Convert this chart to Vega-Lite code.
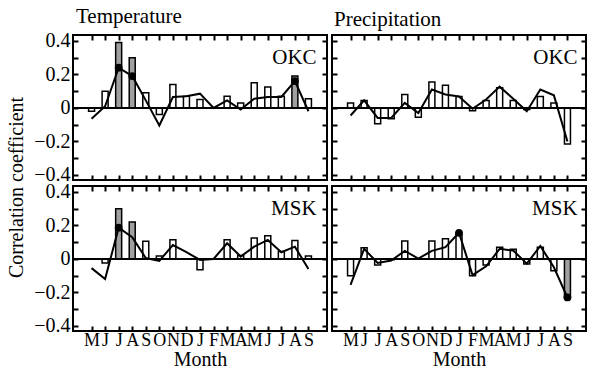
{
  "$schema": "https://vega.github.io/schema/vega-lite/v6.json",
  "background": "white",
  "padding": {"left": 6, "top": 4, "right": 2, "bottom": 0},
  "title": {"text": "Correlation coefficient", "orient": "left", "anchor": "middle", "fontSize": 20, "fontWeight": "normal", "font": "Liberation Serif", "color": "black", "offset": 6},
  "data": {"values": [
    {"v":"Temperature","s":"OKC","m":1,"b":-0.02,"l":-0.065,"sig":0,"dot":0},
    {"v":"Temperature","s":"OKC","m":2,"b":0.10,"l":0.01,"sig":0,"dot":0},
    {"v":"Temperature","s":"OKC","m":3,"b":0.39,"l":0.24,"sig":1,"dot":1},
    {"v":"Temperature","s":"OKC","m":4,"b":0.30,"l":0.19,"sig":1,"dot":1},
    {"v":"Temperature","s":"OKC","m":5,"b":0.09,"l":0.045,"sig":0,"dot":0},
    {"v":"Temperature","s":"OKC","m":6,"b":-0.04,"l":-0.105,"sig":0,"dot":0},
    {"v":"Temperature","s":"OKC","m":7,"b":0.14,"l":0.065,"sig":0,"dot":0},
    {"v":"Temperature","s":"OKC","m":8,"b":0.07,"l":0.07,"sig":0,"dot":0},
    {"v":"Temperature","s":"OKC","m":9,"b":0.05,"l":0.085,"sig":0,"dot":0},
    {"v":"Temperature","s":"OKC","m":10,"b":0.0,"l":0.0,"sig":0,"dot":0},
    {"v":"Temperature","s":"OKC","m":11,"b":0.07,"l":0.045,"sig":0,"dot":0},
    {"v":"Temperature","s":"OKC","m":12,"b":0.03,"l":-0.01,"sig":0,"dot":0},
    {"v":"Temperature","s":"OKC","m":13,"b":0.15,"l":0.055,"sig":0,"dot":0},
    {"v":"Temperature","s":"OKC","m":14,"b":0.125,"l":0.065,"sig":0,"dot":0},
    {"v":"Temperature","s":"OKC","m":15,"b":0.07,"l":0.065,"sig":0,"dot":0},
    {"v":"Temperature","s":"OKC","m":16,"b":0.19,"l":0.16,"sig":1,"dot":1},
    {"v":"Temperature","s":"OKC","m":17,"b":0.055,"l":-0.02,"sig":0,"dot":0},
    {"v":"Temperature","s":"MSK","m":1,"b":0.0,"l":-0.055,"sig":0,"dot":0},
    {"v":"Temperature","s":"MSK","m":2,"b":-0.025,"l":-0.12,"sig":0,"dot":0},
    {"v":"Temperature","s":"MSK","m":3,"b":0.30,"l":0.186,"sig":1,"dot":1},
    {"v":"Temperature","s":"MSK","m":4,"b":0.22,"l":0.13,"sig":1,"dot":0},
    {"v":"Temperature","s":"MSK","m":5,"b":0.105,"l":0.005,"sig":0,"dot":0},
    {"v":"Temperature","s":"MSK","m":6,"b":0.018,"l":-0.012,"sig":0,"dot":0},
    {"v":"Temperature","s":"MSK","m":7,"b":0.115,"l":0.083,"sig":0,"dot":0},
    {"v":"Temperature","s":"MSK","m":8,"b":0.0,"l":0.04,"sig":0,"dot":0},
    {"v":"Temperature","s":"MSK","m":9,"b":-0.065,"l":-0.006,"sig":0,"dot":0},
    {"v":"Temperature","s":"MSK","m":10,"b":0.0,"l":0.0,"sig":0,"dot":0},
    {"v":"Temperature","s":"MSK","m":11,"b":0.115,"l":0.093,"sig":0,"dot":0},
    {"v":"Temperature","s":"MSK","m":12,"b":0.02,"l":0.014,"sig":0,"dot":0},
    {"v":"Temperature","s":"MSK","m":13,"b":0.125,"l":0.073,"sig":0,"dot":0},
    {"v":"Temperature","s":"MSK","m":14,"b":0.138,"l":0.113,"sig":0,"dot":0},
    {"v":"Temperature","s":"MSK","m":15,"b":0.045,"l":0.04,"sig":0,"dot":0},
    {"v":"Temperature","s":"MSK","m":16,"b":0.11,"l":0.073,"sig":0,"dot":0},
    {"v":"Temperature","s":"MSK","m":17,"b":0.018,"l":-0.06,"sig":0,"dot":0},
    {"v":"Precipitation","s":"OKC","m":1,"b":0.03,"l":-0.045,"sig":0,"dot":0},
    {"v":"Precipitation","s":"OKC","m":2,"b":0.045,"l":0.045,"sig":0,"dot":0},
    {"v":"Precipitation","s":"OKC","m":3,"b":-0.095,"l":-0.06,"sig":0,"dot":0},
    {"v":"Precipitation","s":"OKC","m":4,"b":-0.065,"l":-0.06,"sig":0,"dot":0},
    {"v":"Precipitation","s":"OKC","m":5,"b":0.08,"l":0.03,"sig":0,"dot":0},
    {"v":"Precipitation","s":"OKC","m":6,"b":-0.055,"l":-0.03,"sig":0,"dot":0},
    {"v":"Precipitation","s":"OKC","m":7,"b":0.155,"l":0.11,"sig":0,"dot":0},
    {"v":"Precipitation","s":"OKC","m":8,"b":0.135,"l":0.08,"sig":0,"dot":0},
    {"v":"Precipitation","s":"OKC","m":9,"b":0.068,"l":0.068,"sig":0,"dot":0},
    {"v":"Precipitation","s":"OKC","m":10,"b":-0.017,"l":-0.005,"sig":0,"dot":0},
    {"v":"Precipitation","s":"OKC","m":11,"b":0.045,"l":0.05,"sig":0,"dot":0},
    {"v":"Precipitation","s":"OKC","m":12,"b":0.12,"l":0.127,"sig":0,"dot":0},
    {"v":"Precipitation","s":"OKC","m":13,"b":0.045,"l":0.055,"sig":0,"dot":0},
    {"v":"Precipitation","s":"OKC","m":14,"b":-0.01,"l":-0.02,"sig":0,"dot":0},
    {"v":"Precipitation","s":"OKC","m":15,"b":0.068,"l":0.11,"sig":0,"dot":0},
    {"v":"Precipitation","s":"OKC","m":16,"b":0.03,"l":0.075,"sig":0,"dot":0},
    {"v":"Precipitation","s":"OKC","m":17,"b":-0.215,"l":-0.2,"sig":0,"dot":0},
    {"v":"Precipitation","s":"MSK","m":1,"b":-0.10,"l":-0.155,"sig":0,"dot":0},
    {"v":"Precipitation","s":"MSK","m":2,"b":0.067,"l":0.06,"sig":0,"dot":0},
    {"v":"Precipitation","s":"MSK","m":3,"b":-0.037,"l":-0.024,"sig":0,"dot":0},
    {"v":"Precipitation","s":"MSK","m":4,"b":-0.005,"l":-0.01,"sig":0,"dot":0},
    {"v":"Precipitation","s":"MSK","m":5,"b":0.107,"l":0.048,"sig":0,"dot":0},
    {"v":"Precipitation","s":"MSK","m":6,"b":0.0,"l":0.002,"sig":0,"dot":0},
    {"v":"Precipitation","s":"MSK","m":7,"b":0.107,"l":0.048,"sig":0,"dot":0},
    {"v":"Precipitation","s":"MSK","m":8,"b":0.12,"l":0.07,"sig":0,"dot":0},
    {"v":"Precipitation","s":"MSK","m":9,"b":0.155,"l":0.156,"sig":0,"dot":1},
    {"v":"Precipitation","s":"MSK","m":10,"b":-0.10,"l":-0.097,"sig":0,"dot":0},
    {"v":"Precipitation","s":"MSK","m":11,"b":-0.037,"l":-0.044,"sig":0,"dot":0},
    {"v":"Precipitation","s":"MSK","m":12,"b":0.07,"l":0.06,"sig":0,"dot":0},
    {"v":"Precipitation","s":"MSK","m":13,"b":0.057,"l":0.05,"sig":0,"dot":0},
    {"v":"Precipitation","s":"MSK","m":14,"b":-0.03,"l":-0.028,"sig":0,"dot":0},
    {"v":"Precipitation","s":"MSK","m":15,"b":0.07,"l":0.077,"sig":0,"dot":0},
    {"v":"Precipitation","s":"MSK","m":16,"b":-0.07,"l":-0.05,"sig":0,"dot":0},
    {"v":"Precipitation","s":"MSK","m":17,"b":-0.23,"l":-0.23,"sig":1,"dot":1}
  ]},
  "columns": 2,
  "bounds": "flush",
  "spacing": {"row": 6, "column": 5},
  "concat": [
    {
      "width": 254, "height": 145,
      "title": {"text": "Temperature", "anchor": "start", "frame": "group", "fontSize": 21, "offset": 4, "dx": 3},
      "transform": [{"filter": "datum.v == 'Temperature' && datum.s == 'OKC'"}],
      "resolve": {"axis": {"x": "independent", "y": "independent"}},
      "layer": [
        {"mark": {"type": "bar", "size": 6, "stroke": "black", "strokeWidth": 1.5},
         "encoding": {
           "x": {"field": "m", "type": "quantitative", "scale": {"domain": [0, 18], "nice": false, "zero": false},
                 "axis": {"orient": "bottom", "values": [1,2,3,4,5,6,7,8,9,10,11,12,13,14,15,16,17], "labels": false, "title": null, "tickSize": -5}},
           "y": {"field": "b", "type": "quantitative", "scale": {"domain": [-0.43, 0.435], "nice": false},
                 "axis": {"orient": "left", "values": [-0.4,-0.3,-0.2,-0.1,0,0.1,0.2,0.3,0.4], "format": ".1f", "labelExpr": "abs(round(datum.value*10)) % 2 == 1 ? '' : (datum.value == 0 ? '0' : datum.label)", "tickSize": -5, "labelFontSize": 20, "labelPadding": 8, "title": null, "labelOverlap": false, "labelFlush": false, "labelBound": false}},
           "fill": {"condition": {"test": "datum.sig == 1", "value": "#a0a0a0"}, "value": "white"}
         }},
        {"mark": {"type": "rule", "strokeWidth": 2, "color": "black"}, "encoding": {"y": {"datum": 0, "type": "quantitative", "axis": null}}},
        {"mark": {"type": "line", "color": "black", "strokeWidth": 2},
         "encoding": {
           "x": {"field": "m", "type": "quantitative", "axis": {"orient": "top", "values": [1,2,3,4,5,6,7,8,9,10,11,12,13,14,15,16,17], "labels": false, "title": null, "tickSize": -5}},
           "y": {"field": "l", "type": "quantitative", "axis": {"orient": "right", "values": [-0.4,-0.3,-0.2,-0.1,0,0.1,0.2,0.3,0.4], "labels": false, "title": null, "tickSize": -5}}
         }},
        {"transform": [{"filter": "datum.dot == 1"}], "mark": {"type": "circle", "color": "black", "size": 60, "opacity": 1},
         "encoding": {"x": {"field": "m", "type": "quantitative", "axis": null}, "y": {"field": "l", "type": "quantitative", "axis": null}}},
        {"transform": [{"filter": "datum.m == 1"}], "mark": {"type": "text", "align": "right", "baseline": "alphabetic", "fontSize": 21, "font": "Liberation Serif", "color": "black"},
         "encoding": {"x": {"datum": 17.6, "type": "quantitative", "axis": null}, "y": {"datum": 0.26, "type": "quantitative", "axis": null}, "text": {"field": "s"}}}
      ]
    },
    {
      "width": 254, "height": 145,
      "title": {"text": "Precipitation", "anchor": "start", "frame": "group", "fontSize": 21, "offset": 4, "dx": 2},
      "transform": [{"filter": "datum.v == 'Precipitation' && datum.s == 'OKC'"}],
      "resolve": {"axis": {"x": "independent", "y": "independent"}},
      "layer": [
        {"mark": {"type": "bar", "size": 6, "stroke": "black", "strokeWidth": 1.5},
         "encoding": {
           "x": {"field": "m", "type": "quantitative", "scale": {"domain": [0, 18], "nice": false, "zero": false},
                 "axis": {"orient": "bottom", "values": [1,2,3,4,5,6,7,8,9,10,11,12,13,14,15,16,17], "labels": false, "title": null, "tickSize": -5}},
           "y": {"field": "b", "type": "quantitative", "scale": {"domain": [-0.43, 0.435], "nice": false},
                 "axis": {"orient": "left", "values": [-0.4,-0.3,-0.2,-0.1,0,0.1,0.2,0.3,0.4], "labels": false, "tickSize": -5, "title": null}},
           "fill": {"condition": {"test": "datum.sig == 1", "value": "#a0a0a0"}, "value": "white"}
         }},
        {"mark": {"type": "rule", "strokeWidth": 2, "color": "black"}, "encoding": {"y": {"datum": 0, "type": "quantitative", "axis": null}}},
        {"mark": {"type": "line", "color": "black", "strokeWidth": 2},
         "encoding": {
           "x": {"field": "m", "type": "quantitative", "axis": {"orient": "top", "values": [1,2,3,4,5,6,7,8,9,10,11,12,13,14,15,16,17], "labels": false, "title": null, "tickSize": -5}},
           "y": {"field": "l", "type": "quantitative", "axis": {"orient": "right", "values": [-0.4,-0.3,-0.2,-0.1,0,0.1,0.2,0.3,0.4], "labels": false, "title": null, "tickSize": -5}}
         }},
        {"transform": [{"filter": "datum.dot == 1"}], "mark": {"type": "circle", "color": "black", "size": 60, "opacity": 1},
         "encoding": {"x": {"field": "m", "type": "quantitative", "axis": null}, "y": {"field": "l", "type": "quantitative", "axis": null}}},
        {"transform": [{"filter": "datum.m == 1"}], "mark": {"type": "text", "align": "right", "baseline": "alphabetic", "fontSize": 21, "font": "Liberation Serif", "color": "black"},
         "encoding": {"x": {"datum": 17.75, "type": "quantitative", "axis": null}, "y": {"datum": 0.26, "type": "quantitative", "axis": null}, "text": {"field": "s"}}}
      ]
    },
    {
      "width": 254, "height": 145,
      "transform": [{"filter": "datum.v == 'Temperature' && datum.s == 'MSK'"}],
      "resolve": {"axis": {"x": "independent", "y": "independent"}},
      "layer": [
        {"mark": {"type": "bar", "size": 6, "stroke": "black", "strokeWidth": 1.5},
         "encoding": {
           "x": {"field": "m", "type": "quantitative", "scale": {"domain": [0, 18], "nice": false, "zero": false},
                 "axis": {"orient": "bottom", "values": [1,2,3,4,5,6,7,8,9,10,11,12,13,14,15,16,17], "labelExpr": "['M','J','J','A','S','O','N','D','J','F','M','A','M','J','J','A','S'][datum.value - 1]", "tickSize": -5, "labelFontSize": 18, "labelPadding": 5, "labelOverlap": false, "labelFlush": false, "labelBound": false, "title": "Month", "titleFontSize": 20, "titlePadding": 0}},
           "y": {"field": "b", "type": "quantitative", "scale": {"domain": [-0.43, 0.435], "nice": false},
                 "axis": {"orient": "left", "values": [-0.4,-0.3,-0.2,-0.1,0,0.1,0.2,0.3,0.4], "format": ".1f", "labelExpr": "abs(round(datum.value*10)) % 2 == 1 ? '' : (datum.value == 0 ? '0' : datum.label)", "tickSize": -5, "labelFontSize": 20, "labelPadding": 8, "title": null, "labelOverlap": false, "labelFlush": false, "labelBound": false}},
           "fill": {"condition": {"test": "datum.sig == 1", "value": "#a0a0a0"}, "value": "white"}
         }},
        {"mark": {"type": "rule", "strokeWidth": 2, "color": "black"}, "encoding": {"y": {"datum": 0, "type": "quantitative", "axis": null}}},
        {"mark": {"type": "line", "color": "black", "strokeWidth": 2},
         "encoding": {
           "x": {"field": "m", "type": "quantitative", "axis": {"orient": "top", "values": [1,2,3,4,5,6,7,8,9,10,11,12,13,14,15,16,17], "labels": false, "title": null, "tickSize": -5}},
           "y": {"field": "l", "type": "quantitative", "axis": {"orient": "right", "values": [-0.4,-0.3,-0.2,-0.1,0,0.1,0.2,0.3,0.4], "labels": false, "title": null, "tickSize": -5}}
         }},
        {"transform": [{"filter": "datum.dot == 1"}], "mark": {"type": "circle", "color": "black", "size": 60, "opacity": 1},
         "encoding": {"x": {"field": "m", "type": "quantitative", "axis": null}, "y": {"field": "l", "type": "quantitative", "axis": null}}},
        {"transform": [{"filter": "datum.m == 1"}], "mark": {"type": "text", "align": "right", "baseline": "alphabetic", "fontSize": 21, "font": "Liberation Serif", "color": "black"},
         "encoding": {"x": {"datum": 17.6, "type": "quantitative", "axis": null}, "y": {"datum": 0.26, "type": "quantitative", "axis": null}, "text": {"field": "s"}}}
      ]
    },
    {
      "width": 254, "height": 145,
      "transform": [{"filter": "datum.v == 'Precipitation' && datum.s == 'MSK'"}],
      "resolve": {"axis": {"x": "independent", "y": "independent"}},
      "layer": [
        {"mark": {"type": "bar", "size": 6, "stroke": "black", "strokeWidth": 1.5},
         "encoding": {
           "x": {"field": "m", "type": "quantitative", "scale": {"domain": [0, 18], "nice": false, "zero": false},
                 "axis": {"orient": "bottom", "values": [1,2,3,4,5,6,7,8,9,10,11,12,13,14,15,16,17], "labelExpr": "['M','J','J','A','S','O','N','D','J','F','M','A','M','J','J','A','S'][datum.value - 1]", "tickSize": -5, "labelFontSize": 18, "labelPadding": 5, "labelOverlap": false, "labelFlush": false, "labelBound": false, "title": "Month", "titleFontSize": 20, "titlePadding": 0}},
           "y": {"field": "b", "type": "quantitative", "scale": {"domain": [-0.43, 0.435], "nice": false},
                 "axis": {"orient": "left", "values": [-0.4,-0.3,-0.2,-0.1,0,0.1,0.2,0.3,0.4], "labels": false, "tickSize": -5, "title": null}},
           "fill": {"condition": {"test": "datum.sig == 1", "value": "#a0a0a0"}, "value": "white"}
         }},
        {"mark": {"type": "rule", "strokeWidth": 2, "color": "black"}, "encoding": {"y": {"datum": 0, "type": "quantitative", "axis": null}}},
        {"mark": {"type": "line", "color": "black", "strokeWidth": 2},
         "encoding": {
           "x": {"field": "m", "type": "quantitative", "axis": {"orient": "top", "values": [1,2,3,4,5,6,7,8,9,10,11,12,13,14,15,16,17], "labels": false, "title": null, "tickSize": -5}},
           "y": {"field": "l", "type": "quantitative", "axis": {"orient": "right", "values": [-0.4,-0.3,-0.2,-0.1,0,0.1,0.2,0.3,0.4], "labels": false, "title": null, "tickSize": -5}}
         }},
        {"transform": [{"filter": "datum.dot == 1"}], "mark": {"type": "circle", "color": "black", "size": 60, "opacity": 1},
         "encoding": {"x": {"field": "m", "type": "quantitative", "axis": null}, "y": {"field": "l", "type": "quantitative", "axis": null}}},
        {"transform": [{"filter": "datum.m == 1"}], "mark": {"type": "text", "align": "right", "baseline": "alphabetic", "fontSize": 21, "font": "Liberation Serif", "color": "black"},
         "encoding": {"x": {"datum": 17.75, "type": "quantitative", "axis": null}, "y": {"datum": 0.26, "type": "quantitative", "axis": null}, "text": {"field": "s"}}}
      ]
    }
  ],
  "config": {
    "font": "Liberation Serif",
    "view": {"stroke": "black", "strokeWidth": 2},
    "axis": {"grid": false, "domain": false, "tickColor": "black", "tickWidth": 2, "labelColor": "black", "titleColor": "black", "labelFont": "Liberation Serif", "titleFont": "Liberation Serif", "titleFontWeight": "normal"},
    "title": {"font": "Liberation Serif", "fontWeight": "normal", "color": "black"}
  }
}
